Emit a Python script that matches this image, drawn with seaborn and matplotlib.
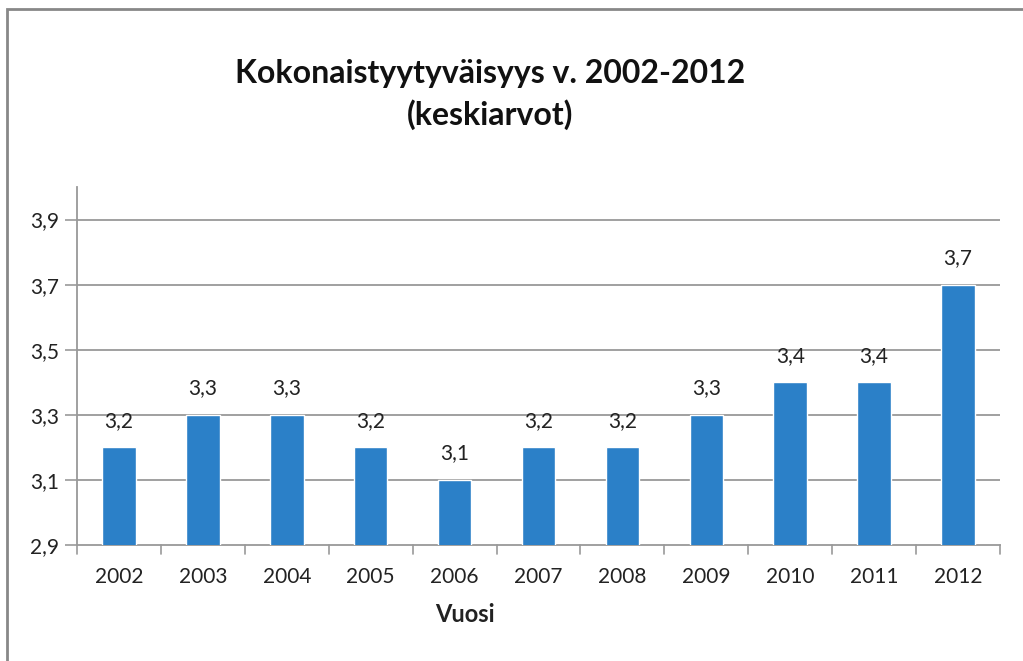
import matplotlib
matplotlib.use("Agg")
import matplotlib.pyplot as plt
import seaborn as sns
import pandas as pd
import numpy as np
from matplotlib.patches import Rectangle

years = ["2002", "2003", "2004", "2005", "2006", "2007", "2008", "2009", "2010", "2011", "2012"]
values = [3.2, 3.3, 3.3, 3.2, 3.1, 3.2, 3.2, 3.3, 3.4, 3.4, 3.7]
yticks = [2.9, 3.1, 3.3, 3.5, 3.7, 3.9]

sns.set_theme(style="white")
plt.rcParams['font.family'] = ['Lato', 'DejaVu Sans']

W, H = 1023, 661
fig = plt.figure(figsize=(W / 100, H / 100), dpi=100)
ax = fig.add_axes([77 / W, 1 - 545 / H, (1000 - 77) / W, (545 - 187) / H])

df = pd.DataFrame({"year": years, "value": values})
sns.barplot(data=df, x="year", y="value", color="#2B80C8", saturation=1, width=0.4, ax=ax, zorder=3)

ax.set_ylim(2.9, 4.0)
ax.set_xlim(-0.5, len(years) - 0.5)
ax.set_yticks(yticks)
ax.set_yticklabels([f"{v:.1f}".replace(".", ",") for v in yticks], fontsize=15, color="#222222")
ax.tick_params(axis="x", length=0, labelsize=15, labelcolor="#222222", pad=16)
ax.tick_params(axis="y", length=9, width=1.2, color="#999999", left=True, pad=4)

for y in yticks[1:]:
    ax.axhline(y, color="#999999", lw=1.3, zorder=1)

for s in ["top", "right"]:
    ax.spines[s].set_visible(False)
for s in ["left", "bottom"]:
    ax.spines[s].set_color("#999999")
    ax.spines[s].set_linewidth(1.3)

# category boundary ticks on x axis
for b in np.arange(-0.5, len(years), 1.0):
    ax.plot([b, b], [0, -0.025], transform=ax.get_xaxis_transform(), color="#999999", lw=1.2, clip_on=False)

for i, v in enumerate(values):
    ax.annotate(f"{v:.1f}".replace(".", ","), (i, v), xytext=(0, 12), textcoords="offset points",
                ha="center", va="bottom", fontsize=15, color="#222222")

ax.set_xlabel("Vuosi", fontsize=17, fontweight="bold", color="#222222")
ax.xaxis.set_label_coords((465 - 77) / (1000 - 77), -0.163)
ax.set_ylabel("")

fig.text(490 / W, 1 - 74 / H, "Kokonaistyytyväisyys v. 2002-2012", ha="center", va="center",
         fontsize=23, fontweight="bold", color="#111111")
fig.text(490 / W, 1 - 115 / H, "(keskiarvot)", ha="center", va="center",
         fontsize=23, fontweight="bold", color="#111111")

fig.patches.append(Rectangle((7 / W, -0.1), 1.2, 1 - 9 / H + 0.1, transform=fig.transFigure,
                             fill=False, edgecolor="#888888", lw=2))

fig.savefig("out.png", dpi=100)
